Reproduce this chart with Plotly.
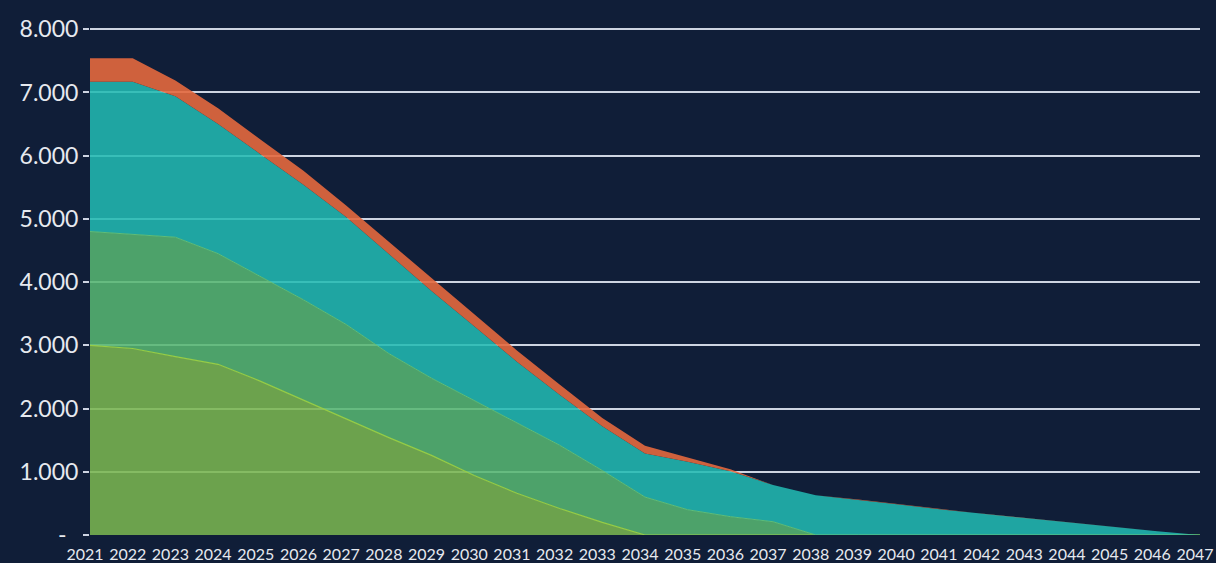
import plotly.graph_objects as go

years = list(range(2021, 2048))

# stacked series (values per year), bottom to top
series_a = [3000, 2950, 2820, 2700, 2430, 2130, 1830, 1540, 1260, 940, 660, 420, 200, 0,
            0, 0, 0, 0, 0, 0, 0, 0, 0, 0, 0, 0, 0]
series_b = [1800, 1810, 1890, 1750, 1660, 1590, 1500, 1330, 1220, 1190, 1120, 1000, 820, 600,
            400, 290, 210, 0, 0, 0, 0, 0, 0, 0, 0, 0, 0]
series_c = [2370, 2410, 2230, 2050, 1930, 1820, 1700, 1570, 1380, 1170, 960, 800, 700, 690,
            760, 720, 580, 630, 560, 480, 400, 330, 260, 190, 120, 60, 0]
series_d = [370, 370, 250, 250, 230, 220, 180, 200, 200, 200, 180, 160, 130, 120,
            70, 30, 0, 0, 0, 0, 0, 0, 0, 0, 0, 0, 0]

y_ticks = [0, 1000, 2000, 3000, 4000, 5000, 6000, 7000, 8000]
y_labels = ["-\u00a0\u00a0", "1.000", "2.000", "3.000", "4.000", "5.000", "6.000", "7.000", "8.000"]

BG = "#101e38"
GRID = "rgb(205,212,225)"

fig = go.Figure()
specs = [
    (series_a, "rgba(122,183,80,0.87)", "rgb(150,205,70)", 1.2),
    (series_b, "rgba(86,183,114,0.87)", "rgb(95,190,120)", 1.0),
    (series_c, "rgba(33,186,178,0.87)", "rgba(0,0,0,0)", 0),
    (series_d, "rgba(228,104,62,0.9)", "rgba(0,0,0,0)", 0),
]
for vals, fc, lc, lw in specs:
    fig.add_trace(go.Scatter(
        x=years, y=vals, mode="lines", stackgroup="one",
        fillcolor=fc, line=dict(color=lc, width=lw), hoverinfo="skip",
        showlegend=False,
    ))

fig.update_layout(
    width=1216, height=563,
    paper_bgcolor=BG, plot_bgcolor=BG,
    margin=dict(l=90, r=16, t=27, b=28),
    font=dict(family="Lato, Open Sans, sans-serif", color="#e6e9ef"),
)
fig.update_xaxes(
    range=[2021, 2047], tickvals=years, ticktext=[str(y) for y in years],
    showgrid=False, zeroline=False, showline=False, automargin=False,
    ticks="outside", ticklen=5, tickcolor=BG, ticklabeloverflow="allow",
    ticklabelshift=-5,
    tickfont=dict(size=16, color="#e6e9ef"),
)
fig.update_yaxes(
    range=[0, 8035], tickvals=y_ticks, ticktext=y_labels,
    showgrid=True, gridcolor=GRID, gridwidth=2, automargin=False,
    zeroline=False, showline=False,
    ticks="outside", ticklen=6, tickcolor=GRID, tickwidth=2,
    tickfont=dict(size=23, color="#e6e9ef"),
)

fig.write_html(
    "out.html",
    config={"displayModeBar": False},
    post_script="document.body.style.margin='0';document.body.style.background='%s';" % BG,
)
